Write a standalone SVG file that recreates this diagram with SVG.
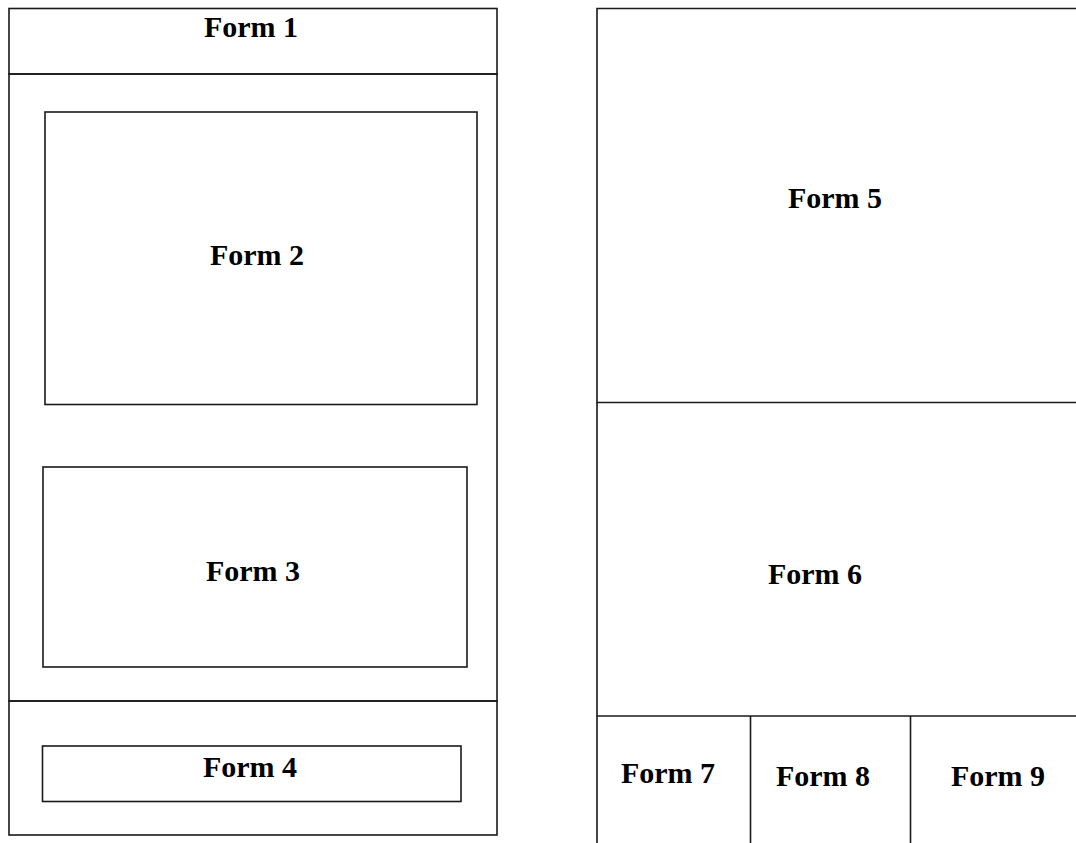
<svg xmlns="http://www.w3.org/2000/svg" width="1076" height="843" viewBox="0 0 1076 843">
<style>
.b{fill:none;stroke:#1a1a1a;stroke-width:1.6}
.t{font-family:"Liberation Serif","Times New Roman",serif;font-weight:bold;font-size:30px;fill:#000;text-anchor:middle}
</style>
<rect x="0" y="0" width="1076" height="843" fill="#fff"/>
<g id="form1"><rect class="b" x="9" y="8.5" width="488" height="65.5"/><text class="t" x="251" y="36.5">Form 1</text></g>
<g id="left-body"><rect class="b" x="9" y="74" width="488" height="627"/></g>
<g id="form2"><rect class="b" x="45" y="112" width="432" height="292.5"/><text class="t" x="257" y="265">Form 2</text></g>
<g id="form3"><rect class="b" x="43" y="467" width="424" height="200"/><text class="t" x="253" y="581">Form 3</text></g>
<g id="left-foot"><rect class="b" x="9" y="701" width="488" height="134"/></g>
<g id="form4"><rect class="b" x="42.5" y="746" width="418.5" height="55.5"/><text class="t" x="250" y="777">Form 4</text></g>
<g id="form5"><path class="b" d="M1080,8.5 H597 V402.5 H1080"/><text class="t" x="835" y="208">Form 5</text></g>
<g id="form6"><path class="b" d="M597,402.5 V716 H1080"/><text class="t" x="815" y="584">Form 6</text></g>
<g id="form7"><path class="b" d="M597,716 V845 M750.5,716 V845"/><text class="t" x="668" y="783">Form 7</text></g>
<g id="form8"><path class="b" d="M910.5,716 V845"/><text class="t" x="823" y="786">Form 8</text></g>
<g id="form9"><text class="t" x="998" y="786">Form 9</text></g>
<g id="connectors"/>
</svg>
